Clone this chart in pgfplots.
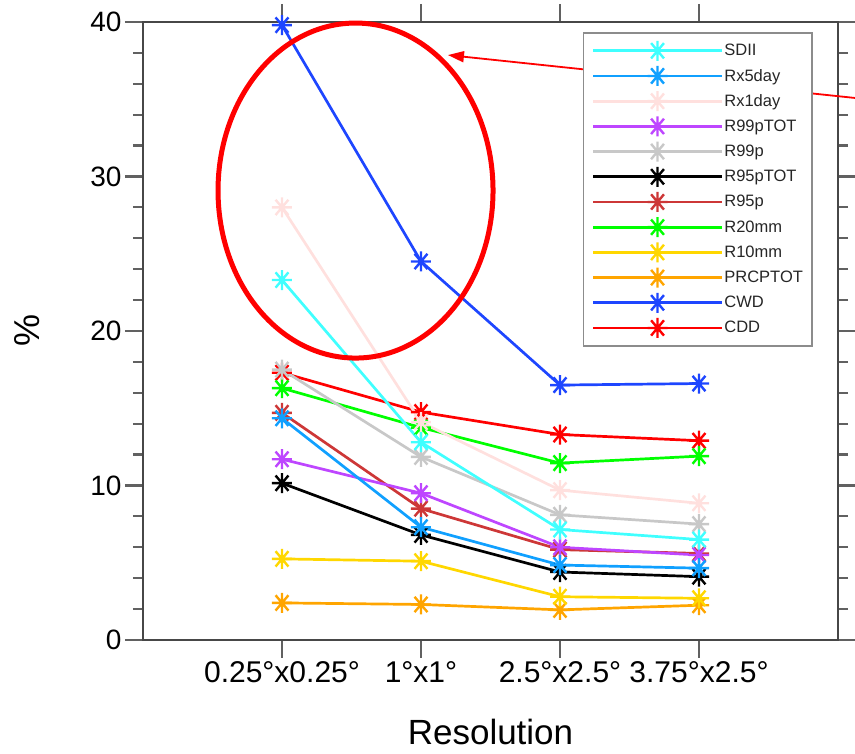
\documentclass[border=0pt]{standalone}
\usepackage{pgfplots}
\pgfplotsset{compat=1.18}
\usepackage{fontspec}
\setmainfont{Liberation Sans}
\usetikzlibrary{arrows.meta}

\definecolor{cSDII}{RGB}{64,255,255}
\definecolor{cRxfive}{RGB}{16,160,255}
\definecolor{cRxone}{RGB}{255,224,222}
\definecolor{cRnnTOT}{RGB}{190,70,255}
\definecolor{cRnn}{RGB}{200,200,200}
\definecolor{cRnfTOT}{RGB}{0,0,0}
\definecolor{cRnf}{RGB}{205,55,55}
\definecolor{cRtw}{RGB}{0,255,0}
\definecolor{cRten}{RGB}{255,215,0}
\definecolor{cPRCP}{RGB}{255,165,0}
\definecolor{cCWD}{RGB}{30,70,255}
\definecolor{cCDD}{RGB}{255,0,0}

\pgfdeclareplotmark{ast8}{%
  \pgfpathmoveto{\pgfqpoint{0pt}{\pgfplotmarksize}}\pgfpathlineto{\pgfqpoint{0pt}{-\pgfplotmarksize}}%
  \pgfpathmoveto{\pgfqpoint{\pgfplotmarksize}{0pt}}\pgfpathlineto{\pgfqpoint{-\pgfplotmarksize}{0pt}}%
  \pgfpathmoveto{\pgfqpointpolar{50}{\pgfplotmarksize}}\pgfpathlineto{\pgfqpointpolar{230}{\pgfplotmarksize}}%
  \pgfpathmoveto{\pgfqpointpolar{130}{\pgfplotmarksize}}\pgfpathlineto{\pgfqpointpolar{310}{\pgfplotmarksize}}%
  \pgfusepathqstroke}

\pgfplotsset{ser/.style={color=#1, line width=2.7pt, mark=ast8, mark size=10pt, mark options={line width=2.4pt}}}

\begin{document}
\begin{tikzpicture}
\begin{axis}[
  name=ax,
  scale only axis,
  width=695pt, height=618pt,
  xmin=-1, xmax=4, ymin=0, ymax=40,
  xtick={0,1,2,3},
  xticklabels={0.25°x0.25°,1°x1°,2.5°x2.5°,3.75°x2.5°},
  ytick={0,10,20,30,40},
  minor y tick num=4,
  tick align=outside,
  major tick length=18pt,
  minor tick length=10pt,
  axis line style={line width=2.2pt, draw=black!72},
  every tick/.style={line width=2.2pt, draw=black!62},
  /pgf/number format/assume math mode=true,
  yticklabel style={font=\fontsize{28}{32}\selectfont, anchor=east},
  xticklabel style={font=\fontsize{30}{34}\selectfont, anchor=north},
  xlabel={Resolution},
  ylabel={\%},
  xlabel style={font=\fontsize{35}{40}\selectfont, at={(axis description cs:0.5,-0.1699)}, anchor=base},
  ylabel style={font=\fontsize{36}{40}\selectfont, at={(axis description cs:-0.16691,0.5)}, anchor=center},
  clip=false,
  reverse legend,
  legend image code/.code={%
    \draw[mark repeat=2, mark phase=2, #1] plot coordinates {(0pt,0pt) (64.5pt,0pt) (129pt,0pt)};},
  legend style={at={(axis description cs:0.633,0.9838)}, anchor=north west,
    draw=black!45, line width=1.5pt, inner xsep=8pt, inner ysep=8pt,
    font=\fontsize{16.5}{18}\selectfont, text=black!85,
    row sep=5.2pt,
    nodes={inner sep=1pt, anchor=west}},
  legend cell align=left,
]
\addplot[ser=cCDD] coordinates {(0,17.3) (1,14.75) (2,13.3) (3,12.9)};
\addlegendentry{CDD}
\addplot[ser=cCWD] coordinates {(0,39.8) (1,24.5) (2,16.5) (3,16.6)};
\addlegendentry{CWD}
\addplot[ser=cPRCP] coordinates {(0,2.4) (1,2.3) (2,1.95) (3,2.25)};
\addlegendentry{PRCPTOT}
\addplot[ser=cRten] coordinates {(0,5.25) (1,5.1) (2,2.8) (3,2.7)};
\addlegendentry{R10mm}
\addplot[ser=cRtw] coordinates {(0,16.3) (1,13.75) (2,11.45) (3,11.9)};
\addlegendentry{R20mm}
\addplot[ser=cRnf] coordinates {(0,14.7) (1,8.5) (2,5.85) (3,5.6)};
\addlegendentry{R95p}
\addplot[ser=cRnfTOT] coordinates {(0,10.15) (1,6.8) (2,4.4) (3,4.1)};
\addlegendentry{R95pTOT}
\addplot[ser=cRnn] coordinates {(0,17.5) (1,11.85) (2,8.1) (3,7.5)};
\addlegendentry{R99p}
\addplot[ser=cRnnTOT] coordinates {(0,11.7) (1,9.5) (2,6.0) (3,5.5)};
\addlegendentry{R99pTOT}
\addplot[ser=cRxone] coordinates {(0,28.0) (1,14.1) (2,9.7) (3,8.85)};
\addlegendentry{Rx1day}
\addplot[ser=cRxfive] coordinates {(0,14.35) (1,7.3) (2,4.85) (3,4.65)};
\addlegendentry{Rx5day}
\addplot[ser=cSDII] coordinates {(0,23.3) (1,12.8) (2,7.15) (3,6.5)};
\addlegendentry{SDII}

\draw[red, line width=5pt] (axis cs:0.529,29.09) ellipse [x radius=137.5pt, y radius=167.5pt];
\draw[red, line width=1.8pt, -{Triangle[length=16pt,width=11pt]}] (axis cs:4.23,34.98) -- (axis cs:1.194,37.86);
\end{axis}
\pgfresetboundingbox
\useasboundingbox ([shift={(-143pt,-114pt)}]ax.south west) rectangle ([shift={(712pt,640pt)}]ax.south west);
\end{tikzpicture}
\end{document}
